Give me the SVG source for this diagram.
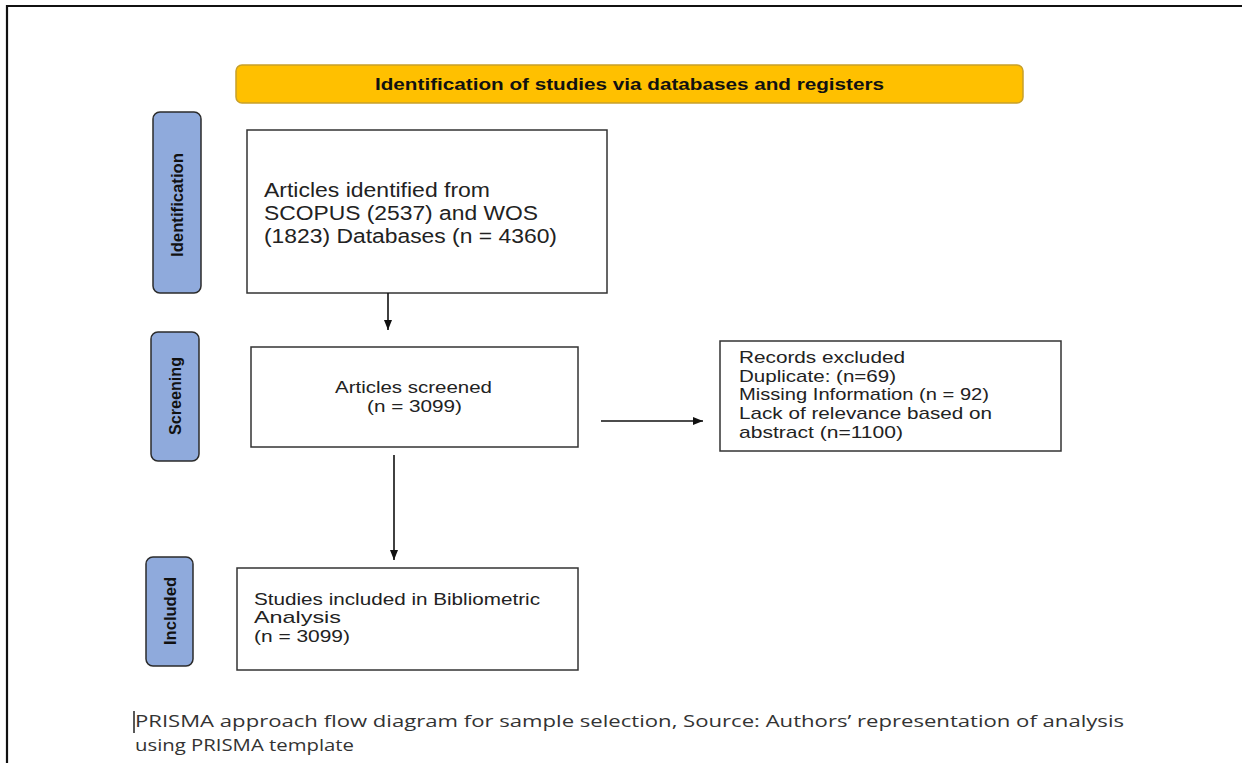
<svg xmlns="http://www.w3.org/2000/svg" width="1242" height="763" viewBox="0 0 1242 763">
<style>
.box{fill:#fff;stroke:#333;stroke-width:1.5}
.side{fill:#8FAADC;stroke:#2b2b2b;stroke-width:1.5}
.t{font-family:"Liberation Sans",Arial,sans-serif;fill:#222}
.st{font-family:"Liberation Sans Narrow","Liberation Sans",Arial,sans-serif;font-weight:bold;font-size:16px;fill:#111}
.cap{font-family:"Open Sans","Liberation Sans",sans-serif;font-size:17px;fill:#333}
.conn{stroke:#111;stroke-width:1.6;fill:none}
</style>
<defs>
<marker id="ah" markerWidth="10" markerHeight="10" refX="10" refY="5" orient="auto" markerUnits="userSpaceOnUse">
<path d="M0,1 L10,5 L0,9 z" fill="#111"/>
</marker>
</defs>
<rect width="1242" height="763" fill="#fff"/>
<path d="M7,763 V6 H1242" fill="none" stroke="#111" stroke-width="2.2"/>

<g id="banner">
<rect x="236" y="65" width="787" height="38" rx="6" fill="#FFC000" stroke="#C8A02A" stroke-width="1.5"/>
<text class="st" x="629.5" y="89.5" text-anchor="middle" textLength="509" lengthAdjust="spacingAndGlyphs">Identification of studies via databases and registers</text>
</g>

<g id="side-identification">
<rect class="side" x="153" y="112" width="48" height="181" rx="7"/>
<text class="st" transform="translate(183,205) rotate(-90)" text-anchor="middle" textLength="104" lengthAdjust="spacingAndGlyphs">Identification</text>
</g>
<g id="side-screening">
<rect class="side" x="151" y="332" width="48" height="129" rx="7"/>
<text class="st" transform="translate(181,396) rotate(-90)" text-anchor="middle" textLength="78" lengthAdjust="spacingAndGlyphs">Screening</text>
</g>
<g id="side-included">
<rect class="side" x="146" y="557" width="47" height="109" rx="7"/>
<text class="st" transform="translate(176,611) rotate(-90)" text-anchor="middle" textLength="68" lengthAdjust="spacingAndGlyphs">Included</text>
</g>

<g id="identified">
<rect class="box" x="247" y="130" width="360" height="163"/>
<text class="t" font-size="20" lengthAdjust="spacingAndGlyphs">
<tspan x="264" y="197" textLength="226" lengthAdjust="spacingAndGlyphs">Articles identified from</tspan>
<tspan x="264" y="220" textLength="274" lengthAdjust="spacingAndGlyphs">SCOPUS (2537) and WOS</tspan>
<tspan x="264" y="243" textLength="293" lengthAdjust="spacingAndGlyphs">(1823) Databases (n = 4360)</tspan>
</text>
</g>

<g id="screened">
<rect class="box" x="251" y="347" width="327" height="100"/>
<text class="t" font-size="17">
<tspan x="335" y="393" textLength="157" lengthAdjust="spacingAndGlyphs">Articles screened</tspan>
<tspan x="367" y="412" textLength="95" lengthAdjust="spacingAndGlyphs">(n = 3099)</tspan>
</text>
</g>

<g id="excluded">
<rect class="box" x="720" y="341" width="341" height="110"/>
<text class="t" font-size="17">
<tspan x="739" y="363" textLength="166" lengthAdjust="spacingAndGlyphs">Records excluded</tspan>
<tspan x="739" y="382" textLength="157" lengthAdjust="spacingAndGlyphs">Duplicate: (n=69)</tspan>
<tspan x="739" y="400" textLength="250" lengthAdjust="spacingAndGlyphs">Missing Information (n = 92)</tspan>
<tspan x="739" y="419" textLength="253" lengthAdjust="spacingAndGlyphs">Lack of relevance based on</tspan>
<tspan x="739" y="438" textLength="164" lengthAdjust="spacingAndGlyphs">abstract (n=1100)</tspan>
</text>
</g>

<g id="included">
<rect class="box" x="237" y="568" width="341" height="102"/>
<text class="t" font-size="17">
<tspan x="254" y="605" textLength="286" lengthAdjust="spacingAndGlyphs">Studies included in Bibliometric</tspan>
<tspan x="254" y="623" textLength="87" lengthAdjust="spacingAndGlyphs">Analysis</tspan>
<tspan x="254" y="642" textLength="96" lengthAdjust="spacingAndGlyphs">(n = 3099)</tspan>
</text>
</g>

<g id="connectors">
<line class="conn" x1="388" y1="293" x2="388" y2="330" marker-end="url(#ah)"/>
<line class="conn" x1="601" y1="421" x2="703" y2="421" marker-end="url(#ah)"/>
<line class="conn" x1="394" y1="455" x2="394" y2="560" marker-end="url(#ah)"/>
</g>

<g id="caption">
<line x1="134" y1="711" x2="134" y2="733" stroke="#222" stroke-width="1.5"/>
<text class="cap" x="135" y="727" textLength="989" lengthAdjust="spacingAndGlyphs">PRISMA approach flow diagram for sample selection, Source: Authors’ representation of analysis</text>
<text class="cap" x="135" y="751" textLength="219" lengthAdjust="spacingAndGlyphs">using PRISMA template</text>
</g>
</svg>
